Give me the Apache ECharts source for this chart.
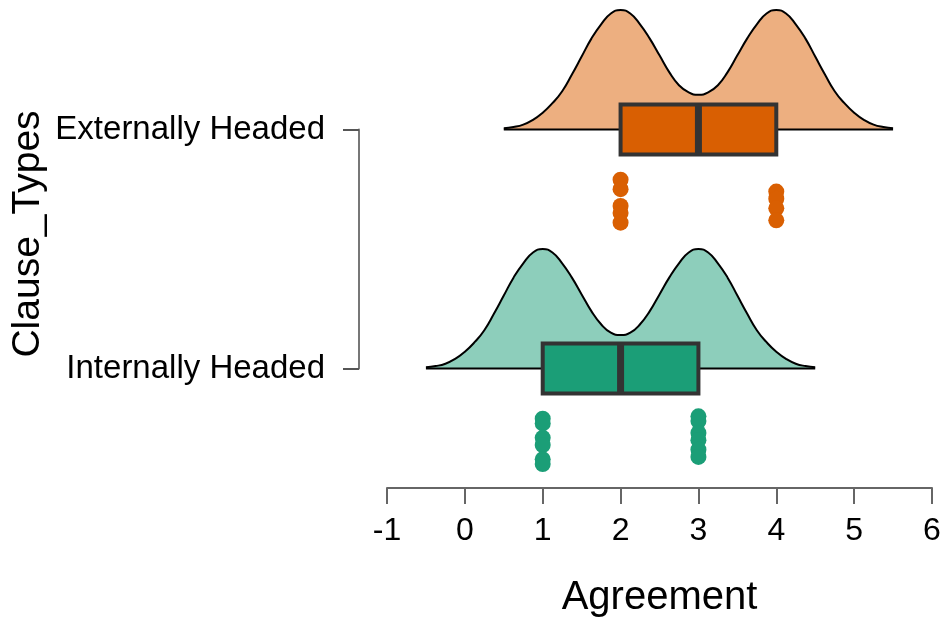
<!DOCTYPE html>
<html>
<head>
<meta charset="utf-8">
<script src="https://cdn.jsdelivr.net/npm/echarts@6/dist/echarts.min.js"></script>
<style>
  html, body { margin: 0; padding: 0; background: #fff; }
  #chart { width: 945px; height: 617px; }
</style>
</head>
<body>
<div id="chart"></div>
<script>
// categories, bottom to top
const categories = ['Internally Headed', 'Externally Headed']
const xTicks = [-1, 0, 1, 2, 3, 4, 5, 6]

// density curves (relative height, peak = 1)
const extDensX = [0.5, 0.625, 0.75, 0.875, 1, 1.125, 1.25, 1.375, 1.5, 1.625, 1.75, 1.875, 2, 2.125, 2.25, 2.375, 2.5, 2.625, 2.75, 2.875,
  3, 3.125, 3.25, 3.375, 3.5, 3.625, 3.75, 3.875, 4, 4.125, 4.25, 4.375, 4.5, 4.625, 4.75, 4.875, 5, 5.125, 5.25, 5.375, 5.5]
const extDensY = [0.01, 0.02, 0.04, 0.08, 0.14, 0.22, 0.32, 0.46, 0.61, 0.76, 0.88, 0.97, 1.0, 0.97, 0.88, 0.76, 0.62, 0.48, 0.37, 0.31,
  0.29, 0.31, 0.37, 0.48, 0.62, 0.76, 0.88, 0.97, 1.0, 0.97, 0.88, 0.76, 0.61, 0.46, 0.32, 0.22, 0.14, 0.08, 0.04, 0.02, 0.01]
const intDensX = [-0.5, -0.375, -0.25, -0.125, 0, 0.125, 0.25, 0.375, 0.5, 0.625, 0.75, 0.875, 1, 1.125, 1.25, 1.375, 1.5, 1.625, 1.75, 1.875,
  2, 2.125, 2.25, 2.375, 2.5, 2.625, 2.75, 2.875, 3, 3.125, 3.25, 3.375, 3.5, 3.625, 3.75, 3.875, 4, 4.125, 4.25, 4.375, 4.5]
const intDensY = [0.01, 0.02, 0.04, 0.08, 0.14, 0.22, 0.32, 0.46, 0.61, 0.76, 0.88, 0.97, 1.0, 0.97, 0.88, 0.76, 0.62, 0.48, 0.37, 0.30,
  0.28, 0.30, 0.37, 0.48, 0.62, 0.76, 0.88, 0.97, 1.0, 0.97, 0.88, 0.76, 0.61, 0.46, 0.32, 0.22, 0.14, 0.08, 0.04, 0.02, 0.01]

// box stats [q1, median, q3]
const extBox = [2, 3, 4]
const intBox = [1, 2, 3]

// jittered raw points [agreement, vertical position]
const extPoints = [[2, 0.79], [2, 0.75], [2, 0.68], [2, 0.65], [2, 0.61], [4, 0.74], [4, 0.71], [4, 0.67], [4, 0.62]]
const intPoints = [[1, -0.21], [1, -0.23], [1, -0.29], [1, -0.32], [1, -0.38], [1, -0.40],
  [3, -0.20], [3, -0.22], [3, -0.27], [3, -0.30], [3, -0.34], [3, -0.37]]

const orange = '#D95F02'
const green = '#1B9E77'
const densScale = 0.5

const densSeries = (xs, ys, base, fill) => ({
  type: 'line',
  smooth: true,
  symbol: 'none',
  data: xs.map((x, i) => [x, base + ys[i] * densScale]),
  lineStyle: { color: '#000', width: 2 },
  areaStyle: { color: fill, opacity: 1, origin: base },
  z: 2,
})

const baseLine = (xs, base) => ({
  type: 'line',
  symbol: 'none',
  data: [[xs[0], base], [xs[xs.length - 1], base]],
  lineStyle: { color: '#000', width: 2 },
  z: 3,
})

const boxSeries = (stats, base, fill) => ({
  type: 'custom',
  data: [[stats[0], stats[1], stats[2], base]],
  z: 5,
  renderItem: (params, api) => {
    const p1 = api.coord([api.value(0), api.value(3)])
    const pm = api.coord([api.value(1), api.value(3)])
    const p3 = api.coord([api.value(2), api.value(3)])
    const h = 25
    return {
      type: 'group',
      children: [
        {
          type: 'rect',
          shape: { x: p1[0], y: p1[1] - h, width: p3[0] - p1[0], height: h * 2 },
          style: { fill: fill, stroke: '#333', lineWidth: 4 },
        },
        {
          type: 'line',
          shape: { x1: pm[0], y1: pm[1] - h, x2: pm[0], y2: pm[1] + h },
          style: { stroke: '#333', lineWidth: 7 },
        },
      ],
    }
  },
})

const pointSeries = (pts, color) => ({
  type: 'scatter',
  data: pts,
  symbolSize: 16,
  itemStyle: { color: color, opacity: 1 },
  z: 4,
})

const chart = echarts.init(document.getElementById('chart'))
chart.setOption({
  animation: false,
  backgroundColor: '#fff',
  textStyle: { fontFamily: 'Liberation Sans, Arial, sans-serif' },
  grid: [
    { left: 387, right: 13, top: 0, bottom: 129, outerBoundsMode: 'none', containLabel: false },
    { left: 359, width: 10, top: 129.5, height: 239, outerBoundsMode: 'none', containLabel: false },
  ],
  xAxis: [
    {
      gridIndex: 0,
      type: 'value',
      min: -1,
      max: 6,
      interval: 1,
      name: 'Agreement',
      nameLocation: 'middle',
      nameGap: 90,
      nameTextStyle: { color: '#000', fontSize: 40 },
      splitLine: { show: false },
      axisLine: { show: true, onZero: false, lineStyle: { color: '#666', width: 2 } },
      axisTick: { show: true, length: 16, lineStyle: { color: '#666', width: 2 } },
      axisLabel: {
        color: '#000',
        fontSize: 32,
        margin: 27,
        formatter: (v) => (xTicks.includes(v) ? String(v) : ''),
      },
    },
    { gridIndex: 1, type: 'value', show: false },
  ],
  yAxis: [
    { gridIndex: 0, type: 'value', min: -0.5, max: 1.5416, show: false },
    {
      gridIndex: 1,
      type: 'category',
      data: categories,
      boundaryGap: false,
      name: 'Clause_Types',
      nameLocation: 'middle',
      nameGap: 311,
      nameTextStyle: { color: '#000', fontSize: 39, padding: [0, 0, 0, 30] },
      axisLine: { show: true, lineStyle: { color: '#777', width: 2 } },
      axisTick: { show: true, length: 16, lineStyle: { color: '#555', width: 2 } },
      axisLabel: { color: '#000', fontSize: 33, margin: 34 },
    },
  ],
  series: [
    densSeries(extDensX, extDensY, 1, '#EDAF80'),
    baseLine(extDensX, 1),
    densSeries(intDensX, intDensY, 0, '#8DCEBB'),
    baseLine(intDensX, 0),
    pointSeries(extPoints, orange),
    pointSeries(intPoints, green),
    boxSeries(extBox, 1, orange),
    boxSeries(intBox, 0, green),
  ],
})
</script>
</body>
</html>
